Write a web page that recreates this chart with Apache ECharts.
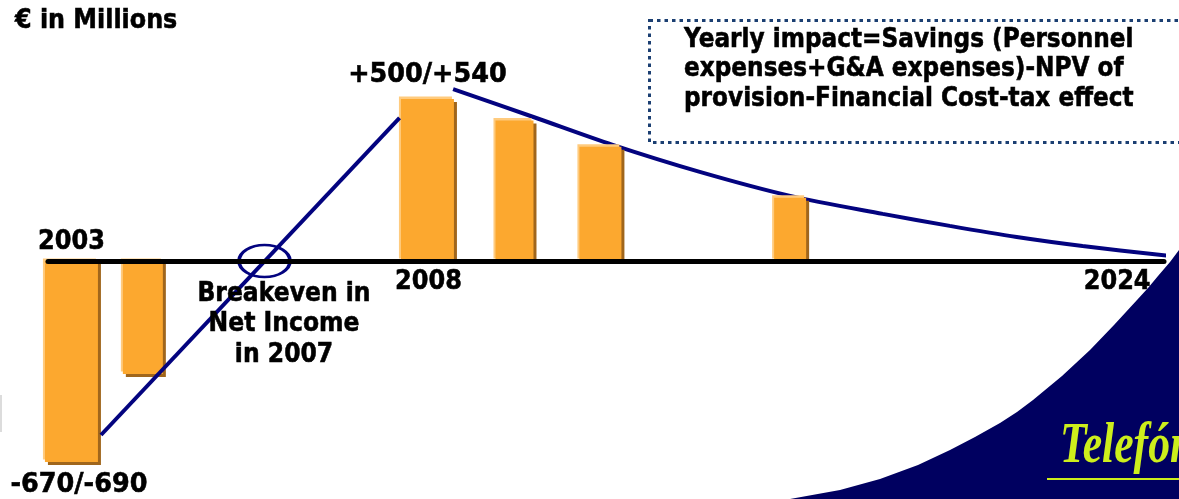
<!DOCTYPE html>
<html>
<head>
<meta charset="utf-8">
<title>Yearly impact</title>
<script src="https://cdn.jsdelivr.net/npm/echarts@6.0.0/dist/echarts.min.js"></script>
<style>
  html, body { margin: 0; padding: 0; background: #fff; }
  #chart { width: 1179px; height: 499px; }
</style>
</head>
<body>
<div id="chart"></div>
<script>
// Schematic timeline: 0 = left end of the 2003 axis, 100 = right end at 2024
const barPositions = [2.1, 8.5, 34.0, 41.8, 49.5, 66.5];
const barValues = [-670, -377, 540, 468, 381, 211];

// Rising net-income line up to the peak
const risePositions = [4.75, 31.5];
const riseValues = [-580, 477];

// Decay of the yearly impact after the peak
const decayPositions = [36.3, 43.5, 50.6, 58.4, 66.5, 74.8, 80.8, 86.8, 92.7, 100.5];
const decayValues = [573, 480, 387, 297, 217, 157, 117, 80, 50, 17];

const breakevenPosition = 19.4;

const yearLabels = ['2003', '2008', '2024'];
const yearPositions = [2.1, 34.1, 95.8];

const peakLabel = '+500/+540';
const troughLabel = '-670/-690';

// Bar widths in pixels (drawing style)
const barWidthsPx = [53, 40, 53, 38, 42, 32];

const NAVY = '#03037F';
const FONT = '"DejaVu Sans", Verdana, sans-serif';

const chart = echarts.init(document.getElementById('chart'), null, { renderer: 'canvas' });

const option = {
  animation: false,
  backgroundColor: '#ffffff',
  grid: { left: 48, right: 15, top: 21, height: 450, containLabel: false, outerBoundsMode: 'none' },
  xAxis: {
    type: 'value', min: 0, max: 100, z: 5,
    axisLine: { onZero: true, lineStyle: { color: '#000', width: 5 } },
    axisTick: { show: false }, axisLabel: { show: false }, splitLine: { show: false }
  },
  yAxis: {
    type: 'value', min: -700, max: 800, show: false,
    splitLine: { show: false }
  },
  series: [
    {
      type: 'line', z: 1, clip: false, silent: true,
      data: decayPositions.map((p, i) => [p, decayValues[i]]),
      smooth: 0.3, showSymbol: false,
      lineStyle: { color: NAVY, width: 4 }
    },
    {
      type: 'custom', z: 2, silent: true,
      data: barPositions.map((p, i) => [p, barValues[i]]),
      encode: { x: 0, y: 1 },
      renderItem: function (params, api) {
        const pos = api.value(0), val = api.value(1);
        const base = api.coord([pos, 0]);
        const end = api.coord([pos, val]);
        const w = barWidthsPx[params.dataIndex];
        const x = base[0] - w / 2;
        const y = Math.min(base[1], end[1]);
        const h = Math.abs(end[1] - base[1]);
        return {
          type: 'group',
          children: [
            { type: 'rect', shape: { x: x + 3, y: y + 3, width: w, height: h }, style: { fill: '#A0661C' } },
            { type: 'rect', shape: { x: x - 2, y: y - 2.5, width: w, height: h }, style: { fill: '#FFCB7E' } },
            { type: 'rect', shape: { x: x, y: y, width: w, height: h }, style: { fill: '#FCA82F' } }
          ]
        };
      }
    },
    {
      type: 'line', z: 3, clip: false, silent: true,
      data: risePositions.map((p, i) => [p, riseValues[i]]),
      showSymbol: false,
      lineStyle: { color: NAVY, width: 4 },
      markPoint: {
        silent: true,
        symbol: 'path://M0,10A10,10,0,1,1,20,10A10,10,0,1,1,0,10Z',
        symbolSize: [51, 32],
        symbolKeepAspect: false,
        itemStyle: { color: 'rgba(0,0,0,0)', borderColor: NAVY, borderWidth: 3 },
        label: { show: false },
        data: [{ coord: [breakevenPosition, 0] }]
      }
    }
  ]
};
chart.setOption(option);

function txt(text, x, y, opts) {
  opts = opts || {};
  const align = opts.align || 'center';
  const vAlign = opts.vAlign || 'middle';
  const fill = opts.fill || '#000';
  const style = {
    text: text,
    fill: fill,
    stroke: opts.noStroke ? null : fill,
    lineWidth: opts.noStroke ? 0 : 0.6,
    font: opts.font || ('bold 27px ' + FONT),
    align: align, textAlign: align,
    verticalAlign: vAlign, textVerticalAlign: vAlign
  };
  if (opts.lineHeight) style.lineHeight = opts.lineHeight;
  return {
    type: 'text', x: x, y: y, z: opts.z || 20,
    scaleX: opts.scaleX || 0.88,
    silent: true,
    style: style
  };
}

// curved navy corner edge
const cornerEdge = [
  [1179, 250], [1170, 262], [1158, 276], [1148, 288], [1137, 300], [1114, 325], [1090, 350],
  [1062, 376], [1033, 400], [1017, 412], [1000, 423], [975, 437], [950, 450], [918, 465],
  [880, 479], [840, 490], [790, 499], [1179, 499]
];

const graphics = [];

// faint edge at the left border
graphics.push({ type: 'rect', z: 1, silent: true, shape: { x: 0, y: 395, width: 2, height: 37 }, style: { fill: '#dcdcdc' } });

// navy corner with the logo
graphics.push({
  type: 'polygon', z: 1, silent: true,
  shape: { points: cornerEdge },
  style: { fill: '#000060' }
});
graphics.push({
  type: 'line', z: 2, silent: true,
  shape: { x1: 1047, y1: 479, x2: 1179, y2: 479 },
  style: { stroke: '#CDEE1C', lineWidth: 2 }
});
graphics.push(txt('Telefónica', 1060, 448, {
  align: 'left', scaleX: 0.78, fill: '#CDEE1C', noStroke: true,
  font: 'italic bold 56px "Liberation Serif", "DejaVu Serif", serif', z: 2
}));

// note box
graphics.push({
  type: 'rect', z: 15, silent: true,
  shape: { x: 649.5, y: 20.5, width: 640, height: 122 },
  style: { fill: '#ffffff', stroke: '#1B3F72', lineWidth: 3, lineDash: [3.5, 4] }
});
graphics.push(txt('Yearly impact=Savings (Personnel\nexpenses+G&A expenses)-NPV of\nprovision-Financial Cost-tax effect',
  684, 25.4, { align: 'left', vAlign: 'top', lineHeight: 29.3, scaleX: 0.86 }));

// unit
graphics.push(txt('€ in Millions', 15, 21, { align: 'left', scaleX: 0.883 }));

// breakeven note
graphics.push(txt('Breakeven in\nNet Income\nin 2007', 284, 278.4, { vAlign: 'top', lineHeight: 30.7, scaleX: 0.87 }));

// year labels along the zero line
const yearOffsets = [-19.5, 21, 21];
yearLabels.forEach(function (label, i) {
  const p = chart.convertToPixel({ gridIndex: 0 }, [yearPositions[i], 0]);
  graphics.push(txt(label, p[0], p[1] + yearOffsets[i], { scaleX: 0.89 }));
});

// value labels at the peak and the trough
const peakPx = chart.convertToPixel({ gridIndex: 0 }, [barPositions[2], barValues[2]]);
graphics.push(txt(peakLabel, peakPx[0], peakPx[1] - 24, { scaleX: 0.945 }));
const troughPx = chart.convertToPixel({ gridIndex: 0 }, [barPositions[0], barValues[0]]);
graphics.push(txt(troughLabel, troughPx[0] + 7.5, troughPx[1] + 23, { scaleX: 0.945 }));

chart.setOption({ graphic: graphics });
</script>
</body>
</html>
